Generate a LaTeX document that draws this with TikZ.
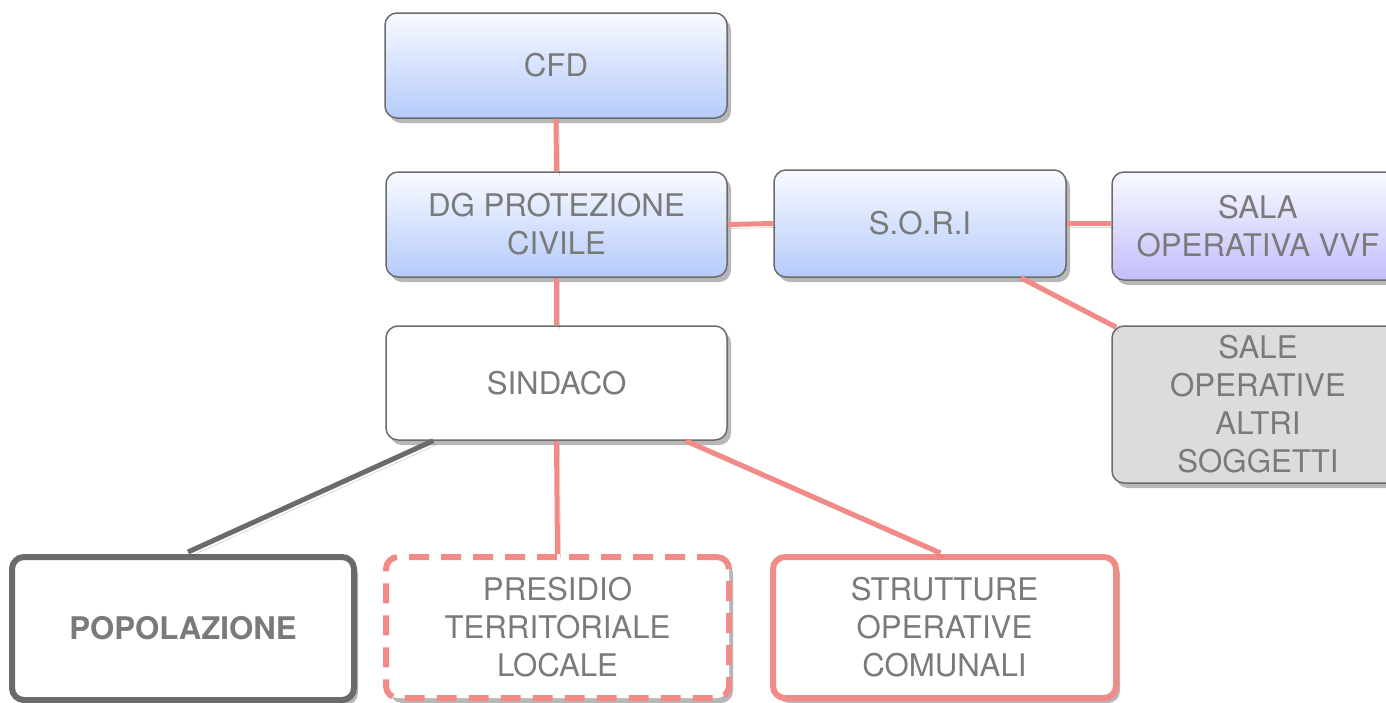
\documentclass[tikz,border=0pt]{standalone}
\usepackage{fontspec}
\setmainfont{TeX Gyre Heros}
\usetikzlibrary{shadows,calc}
\definecolor{boxline}{HTML}{6B6B6B}
\definecolor{txtgray}{HTML}{7A7A7A}
\definecolor{salmon}{HTML}{F28A87}
\definecolor{bluetop}{HTML}{F8FAFF}
\definecolor{bluebot}{HTML}{B5CBFB}
\definecolor{lilac}{HTML}{C3BDFB}
\definecolor{greyfill}{HTML}{DCDCDC}
\begin{document}
\begin{tikzpicture}[x=0.5pt,y=-0.5pt,
    box/.style={draw=boxline,line width=0.75pt,rounded corners=6pt,align=center,inner sep=0pt,
        text=txtgray,font=\fontsize{15.6}{19}\selectfont,
        drop shadow={shadow xshift=2pt,shadow yshift=-2.5pt,opacity=0.4,fill=black!70}},
    bluebox/.style={box,top color=bluetop,bottom color=bluebot},
    lilacbox/.style={box,top color=bluetop,bottom color=lilac},
    greybox/.style={box,fill=greyfill},
    whitebox/.style={box,fill=white},
    wire/.style={line width=2.5pt,draw=salmon,
        preaction={draw=black,opacity=0.15,transform canvas={shift={(1.5pt,-2pt)}}}},
    darkwire/.style={wire,draw=boxline}]
    \useasboundingbox (0,0) rectangle (1386,702);
    \clip (0,0) rectangle (1386,702);
    \node[bluebox,minimum width=171pt,minimum height=52.5pt] (cfd) at (556,65.5) {CFD};
    \node[bluebox,minimum width=170.5pt,minimum height=52.5pt] (dg) at (556.5,224.5) {DG PROTEZIONE\\CIVILE};
    \node[bluebox,minimum width=146pt,minimum height=53.5pt] (sori) at (920,223.5) {S.O.R.I};
    \node[lilacbox,minimum width=146pt,minimum height=54pt] (vvf) at (1258,226) {SALA\\OPERATIVA VVF};
    \node[greybox,minimum width=146pt,minimum height=78.5pt] (sale) at (1258,404.5) {SALE\\OPERATIVE\\ALTRI\\SOGGETTI};
    \node[whitebox,minimum width=170.5pt,minimum height=57pt] (sindaco) at (556.5,383) {SINDACO};
    \node[whitebox,draw=boxline,line width=3pt,minimum width=171pt,minimum height=71.5pt,font=\fontsize{15.6}{19}\selectfont\bfseries] (pop) at (183,628.5) {POPOLAZIONE};
    \node[whitebox,draw=salmon,line width=3pt,dash pattern=on 10pt off 6pt,minimum width=171.5pt,minimum height=70.5pt] (presidio) at (557.5,627.5) {PRESIDIO\\TERRITORIALE\\LOCALE};
    \node[whitebox,draw=salmon,line width=3pt,minimum width=171.5pt,minimum height=70.5pt] (strutture) at (944.5,627.5) {STRUTTURE\\OPERATIVE\\COMUNALI};
    \draw[wire] (cfd.south) -- (dg.north);
    \draw[wire] (dg.east) -- (sori.west);
    \draw[wire] (sori.east) -- (vvf.west |- sori.east);
    \draw[wire] ($(sori.south east)+(-46,0)$) -- ($(sale.north west)+(5,2)$);
    \draw[wire] (dg.south) -- (sindaco.north);
    \draw[darkwire] ($(sindaco.south west)+(48,0)$) -- ($(pop.north)+(5,-2)$);
    \draw[wire] (sindaco.south) -- (presidio.north);
    \draw[wire] ($(sindaco.south east)+(-42,0)$) -- ($(strutture.north)+(-4,-1)$);
\end{tikzpicture}
\end{document}
